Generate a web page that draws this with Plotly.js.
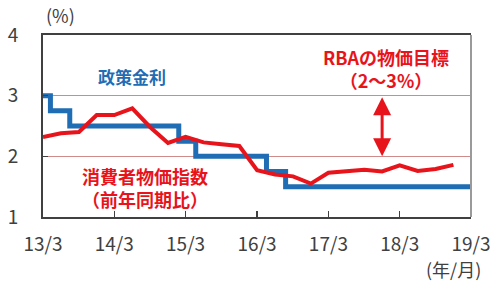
<!DOCTYPE html>
<html>
<head>
<meta charset="utf-8">
<script src="https://cdn.plot.ly/plotly-3.0.1.min.js"></script>
<style>html,body{margin:0;padding:0;background:#fff;}#chart{width:500px;height:285px;}</style>
</head>
<body>
<div id="chart"></div>
<script>
// Policy rate (step changes)
const policyDates = ['2013-03-01','2013-04-08','2013-07-16','2015-01-25','2015-04-22','2016-04-18','2016-07-25','2019-03-01'];
const policyRate  = [3.0, 2.75, 2.5, 2.25, 2.0, 1.75, 1.5, 1.5];

// CPI (y/y, quarterly)
const cpiDates = ['2013-03-01','2013-06-01','2013-09-01','2013-12-01',
                  '2014-03-01','2014-06-01','2014-09-01','2014-12-01',
                  '2015-03-01','2015-06-01','2015-09-01','2015-12-01',
                  '2016-03-01','2016-06-01','2016-09-01','2016-12-01',
                  '2017-03-01','2017-06-01','2017-09-01','2017-12-01',
                  '2018-03-01','2018-06-01','2018-09-01','2018-12-01'];
const cpiValues = [2.32, 2.38, 2.40, 2.68,
                   2.68, 2.79, 2.48, 2.22,
                   2.32, 2.23, 2.20, 2.17,
                   1.77, 1.70, 1.67, 1.55,
                   1.73, 1.76, 1.78, 1.75,
                   1.85, 1.76, 1.79, 1.86];

// Target band
const targetBand = [2, 3];
const arrowDate = '2017-12-01';

// Axis ticks
const xTickVals = ['2013-03-01','2014-03-01','2015-03-01','2016-03-01','2017-03-01','2018-03-01','2019-03-01'];
const xTickText = ['13/3','14/3','15/3','16/3','17/3','18/3','19/3'];
const yTickVals = [1, 2, 3, 4];

const FONT = '"Noto Sans CJK JP", "Noto Sans", sans-serif';
const BLUE = '#1f6db4';
const RED = '#e8141c';
const GRAY = '#404040';

const data = [
  {x: policyDates, y: policyRate, type: 'scatter', mode: 'lines',
   line: {color: BLUE, width: 5, shape: 'hv'}, hoverinfo: 'skip'},
  {x: cpiDates, y: cpiValues, type: 'scatter', mode: 'lines',
   line: {color: RED, width: 4}, hoverinfo: 'skip'}
];

function note(text, x, y, size, color) {
  return {text: text, xref: 'paper', yref: 'paper', x: x, y: y,
          xanchor: 'center', yanchor: 'middle', showarrow: false,
          font: {family: FONT, size: size, color: color}};
}

const layout = {
  width: 500, height: 285,
  margin: {l: 43, r: 29, t: 35, b: 68},
  paper_bgcolor: '#fff', plot_bgcolor: '#fff',
  showlegend: false,
  font: {family: FONT, color: GRAY, size: 17},
  xaxis: {
    type: 'date',
    range: ['2013-03-01', '2019-03-01'],
    tickvals: xTickVals, ticktext: xTickText,
    ticks: 'inside', ticklen: 6, tickwidth: 1.5, tickcolor: GRAY,
    showline: true, linecolor: GRAY, linewidth: 2, mirror: true,
    showgrid: false, zeroline: false,
    tickfont: {family: FONT, size: 19, color: GRAY},
    ticklabelstandoff: 9
  },
  yaxis: {
    range: [1, 4],
    tickvals: yTickVals,
    ticks: 'inside', ticklen: 5, tickwidth: 1.5, tickcolor: GRAY,
    showline: true, linecolor: GRAY, linewidth: 2,
    showgrid: true, gridcolor: '#cf8a8a', gridwidth: 1,
    zeroline: false,
    tickfont: {family: FONT, size: 19, color: GRAY},
    ticklabelstandoff: 19
  },
  shapes: [
    {type: 'line', xref: 'paper', yref: 'paper', x0: 1, x1: 1, y0: 0, y1: 1,
     line: {color: '#9a9a9a', width: 2}}
  ],
  annotations: [
    note('(%)', 0.04, 1.11, 18, GRAY),
    note('(年/月)', 0.958, -0.284, 18, GRAY),
    note('<b>政策金利</b>', 0.208, 0.774, 17, BLUE),
    note('<b>RBAの物価目標<br>（2〜3%）</b>', 0.801, 0.815, 18, RED),
    note('<b>消費者物価指数<br>（前年同期比）</b>', 0.238, 0.16, 18, RED),
    {text: '', x: arrowDate, y: targetBand[0], ax: arrowDate, ay: targetBand[1],
     xref: 'x', yref: 'y', axref: 'x', ayref: 'y',
     showarrow: true, arrowhead: 2, arrowside: 'end+start', arrowsize: 1.2,
     arrowwidth: 3, arrowcolor: RED, standoff: 0, startstandoff: 0}
  ]
};

Plotly.newPlot('chart', data, layout, {staticPlot: true, displayModeBar: false});
</script>
</body>
</html>
